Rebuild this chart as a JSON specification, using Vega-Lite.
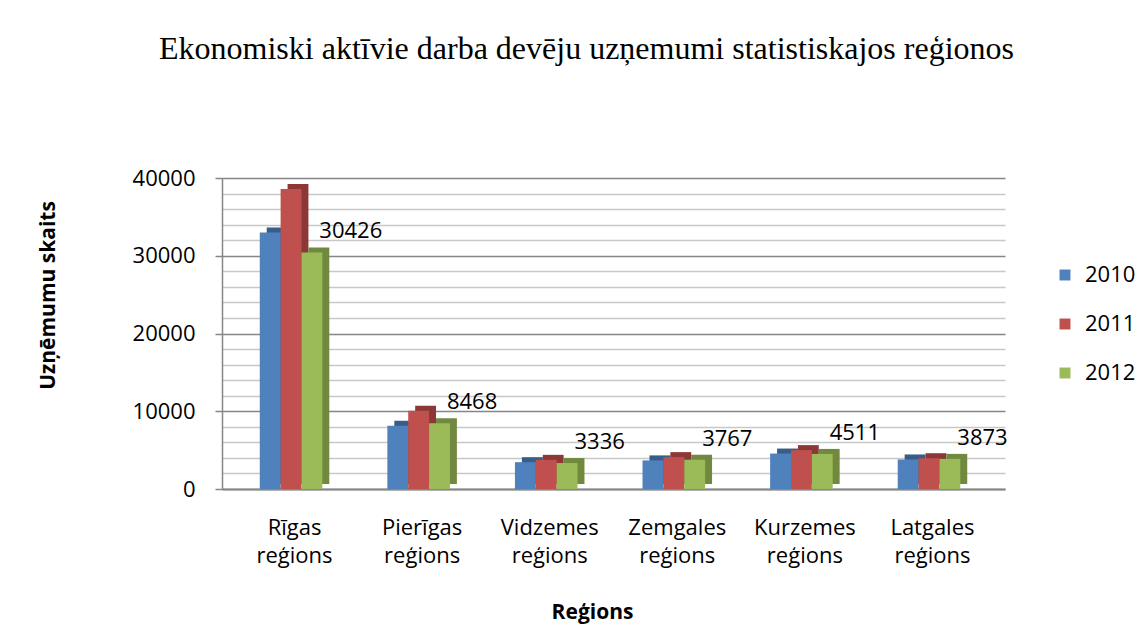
{
  "$schema": "https://vega.github.io/schema/vega-lite/v6.json",
  "width": 783,
  "height": 311,
  "autosize": "none",
  "padding": {"left": 222, "top": 178, "right": 142, "bottom": 138},
  "background": "white",
  "config": {"view": {"stroke": null}, "font": "Open Sans"},
  "title": {
    "text": "Ekonomiski aktīvie darba devēju uzņemumi statistiskajos reģionos",
    "font": "Liberation Serif",
    "fontSize": 32,
    "fontWeight": "normal",
    "color": "black",
    "frame": "group",
    "anchor": "middle",
    "dx": -27,
    "offset": 76,
    "baseline": "alphabetic"
  },
  "data": {
    "values": [
      {"region": "Rīgas reģions", "year": "2010", "value": 33000},
      {"region": "Rīgas reģions", "year": "2011", "value": 38600},
      {"region": "Rīgas reģions", "year": "2012", "value": 30426},
      {"region": "Pierīgas reģions", "year": "2010", "value": 8150},
      {"region": "Pierīgas reģions", "year": "2011", "value": 10050},
      {"region": "Pierīgas reģions", "year": "2012", "value": 8468},
      {"region": "Vidzemes reģions", "year": "2010", "value": 3450},
      {"region": "Vidzemes reģions", "year": "2011", "value": 3750},
      {"region": "Vidzemes reģions", "year": "2012", "value": 3336},
      {"region": "Zemgales reģions", "year": "2010", "value": 3680},
      {"region": "Zemgales reģions", "year": "2011", "value": 4100},
      {"region": "Zemgales reģions", "year": "2012", "value": 3767},
      {"region": "Kurzemes reģions", "year": "2010", "value": 4560},
      {"region": "Kurzemes reģions", "year": "2011", "value": 5000},
      {"region": "Kurzemes reģions", "year": "2012", "value": 4511},
      {"region": "Latgales reģions", "year": "2010", "value": 3800},
      {"region": "Latgales reģions", "year": "2011", "value": 3960},
      {"region": "Latgales reģions", "year": "2012", "value": 3873}
    ]
  },
  "encoding": {
    "x": {
      "field": "region",
      "type": "nominal",
      "sort": ["Rīgas reģions", "Pierīgas reģions", "Vidzemes reģions", "Zemgales reģions", "Kurzemes reģions", "Latgales reģions"],
      "scale": {"paddingInner": 0.455, "paddingOuter": 0.296},
      "axis": {
        "title": "Reģions",
        "titleFontSize": 21,
        "titleFontWeight": "bold",
        "titleColor": "black",
        "titleX": 370,
        "titleY": 123,
        "titleBaseline": "middle",
        "labelAngle": 0,
        "labelFontSize": 22,
        "labelColor": "black",
        "labelExpr": "split(datum.label, ' ')",
        "labelLineHeight": 28,
        "labelBaseline": "top",
        "labelPadding": 28,
        "ticks": false,
        "domainColor": "#868686",
        "domainWidth": 2
      }
    },
    "y": {
      "field": "value",
      "type": "quantitative",
      "scale": {"domain": [0, 40000], "nice": false},
      "axis": {
        "values": [0, 2000, 4000, 6000, 8000, 10000, 12000, 14000, 16000, 18000, 20000, 22000, 24000, 26000, 28000, 30000, 32000, 34000, 36000, 38000, 40000],
        "format": "d",
        "labelExpr": "datum.value % 10000 === 0 ? datum.label : ''",
        "labelFontSize": 22,
        "labelColor": "black",
        "labelPadding": 20,
        "tickSize": 7,
        "tickColor": "#868686",
        "tickWidth": 1.5,
        "tickOpacity": {"condition": {"test": "datum.value % 10000 === 0", "value": 1}, "value": 0},
        "grid": true,
        "gridColor": {"condition": {"test": "datum.value % 10000 === 0", "value": "#868686"}, "value": "#c8c8c8"},
        "gridWidth": 1.5,
        "domainColor": "#868686",
        "domainWidth": 1.5,
        "title": "Uzņēmumu skaits",
        "titleFontSize": 21,
        "titleFontWeight": "bold",
        "titleColor": "black",
        "titleAngle": -90,
        "titleX": -174,
        "titleY": 117,
        "titleAlign": "center",
        "titleBaseline": "middle"
      }
    }
  },
  "layer": [
    {
      "mark": {"type": "bar", "yOffset": -5},
      "encoding": {
        "xOffset": {"field": "year", "type": "nominal", "scale": {"paddingInner": 0, "paddingOuter": 0.1667, "align": 1}},
        "color": {
          "field": "year",
          "type": "nominal",
          "scale": {"domain": ["2010", "2011", "2012"], "range": ["#385D8A", "#8C3836", "#71893F"]},
          "legend": null
        }
      }
    },
    {
      "mark": {"type": "bar"},
      "encoding": {
        "xOffset": {"field": "year", "type": "nominal", "scale": {"paddingInner": 0, "paddingOuter": 0.1667, "align": 0}},
        "color": {
          "field": "year",
          "type": "nominal",
          "scale": {"domain": ["2010", "2011", "2012"], "range": ["#4F81BD", "#C0504D", "#9BBB59"]},
          "legend": {
            "title": null,
            "orient": "none",
            "legendX": 832,
            "legendY": 86,
            "labelFontSize": 22,
            "labelColor": "black",
            "symbolType": "square",
            "symbolSize": 120,
            "symbolStrokeWidth": 0,
            "labelOffset": 9,
            "rowPadding": 27
          }
        }
      }
    },
    {
      "transform": [{"filter": "datum.year === '2012'"}],
      "mark": {"type": "text", "align": "left", "baseline": "alphabetic", "dx": 0, "dy": -14, "fontSize": 22, "color": "black"},
      "encoding": {
        "xOffset": {"field": "year", "type": "nominal", "scale": {"domain": ["2010", "2011", "2012"], "paddingInner": 0, "paddingOuter": 0.1667, "align": 0}},
        "text": {"field": "value", "type": "quantitative", "format": "d"}
      }
    }
  ],
  "resolve": {"scale": {"color": "independent", "xOffset": "independent"}}
}
